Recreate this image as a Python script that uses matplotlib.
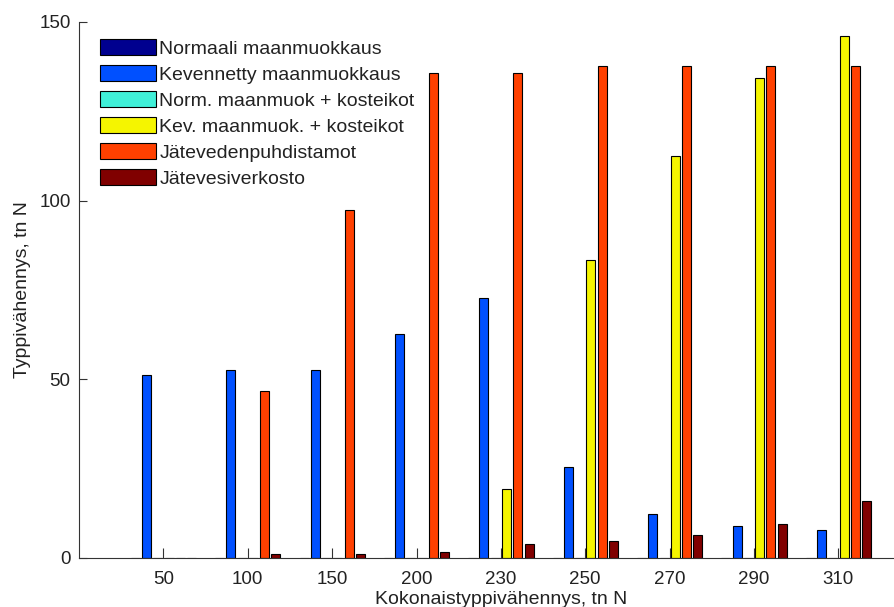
import matplotlib
matplotlib.use("Agg")
import matplotlib.pyplot as plt
import numpy as np

categories = ["50", "100", "150", "200", "230", "250", "270", "290", "310"]
series_names = ["Normaali maanmuokkaus", "Kevennetty maanmuokkaus",
                "Norm. maanmuok + kosteikot", "Kev. maanmuok. + kosteikot",
                "Jätevedenpuhdistamot", "Jätevesiverkosto"]
normaali = [0, 0, 0, 0, 0, 0, 0, 0, 0]
kevennetty = [51.0, 52.6, 52.6, 62.7, 72.6, 25.4, 12.1, 8.7, 7.8]
norm_kost = [0, 0, 0, 0, 0, 0, 0, 0, 0]
kev_kost = [0, 0, 0, 0, 19.1, 83.3, 112.6, 134.3, 146.0]
jatevesi_puhd = [0, 46.6, 97.4, 135.6, 135.6, 137.8, 137.8, 137.8, 137.8]
jatevesi_verk = [0, 1.1, 1.1, 1.6, 3.9, 4.6, 6.2, 9.4, 15.7]
colors = ["#00008f", "#0050ff", "#40f0d8", "#f5f500", "#ff4000", "#800000"]

data = [normaali, kevennetty, norm_kost, kev_kost, jatevesi_puhd, jatevesi_verk]

plt.rcParams['font.family'] = ['Liberation Sans', 'DejaVu Sans']

W, H = 895, 607
fig = plt.figure(figsize=(W / 100, H / 100), dpi=100)
unit = 84.375
left_px = 79
bottom_px = 557.5
top_px = 22
ax = fig.add_axes([left_px / W, (H - bottom_px) / H, 10 * unit / W, (bottom_px - top_px) / H])

n = len(data)
x = np.arange(1, len(categories) + 1)
group = 0.8
step = group / n
bw = step * 0.8
for i, (vals, name, c) in enumerate(zip(data, series_names, colors)):
    off = (i - (n - 1) / 2) * step
    ax.bar(x + off, vals, width=bw, color=c, edgecolor="black", linewidth=0.8, label=name)

ax.set_xlim(0, 10)
ax.set_ylim(0, 150)
ax.set_xticks(x)
ax.set_xticklabels(categories)
ax.set_yticks([0, 50, 100, 150])
ax.spines['top'].set_visible(False)
ax.spines['right'].set_visible(False)
for s in ['left', 'bottom']:
    ax.spines[s].set_linewidth(0.8)
    ax.spines[s].set_color('#333333')
ax.tick_params(axis='y', direction='in', length=6, width=0.8, labelsize=13.5, pad=6, colors='#333333', labelcolor='#222222')
ax.tick_params(axis='x', direction='in', length=7, width=0.8, labelsize=13.5, pad=10, colors='#333333', labelcolor='#222222')

ax.set_xlabel("Kokonaistyppivähennys, tn N", fontsize=14, color='#222222')
ax.xaxis.set_label_coords(0.5, -(600 - bottom_px) / (bottom_px - top_px))
ax.xaxis.label.set_va('center')
ax.set_ylabel("Typpivähennys, tn N", fontsize=14, color='#222222', labelpad=6)

leg = ax.legend(loc='upper left', bbox_to_anchor=((97 - left_px) / (10 * unit), 1 - (36 - top_px) / (bottom_px - top_px)),
                frameon=False, fontsize=14, handlelength=2.9, handleheight=0.93,
                labelspacing=0.36, handletextpad=0.15, borderaxespad=0, borderpad=0.15)
for t in leg.get_texts():
    t.set_color('#222222')

fig.savefig("out.png", dpi=100)
